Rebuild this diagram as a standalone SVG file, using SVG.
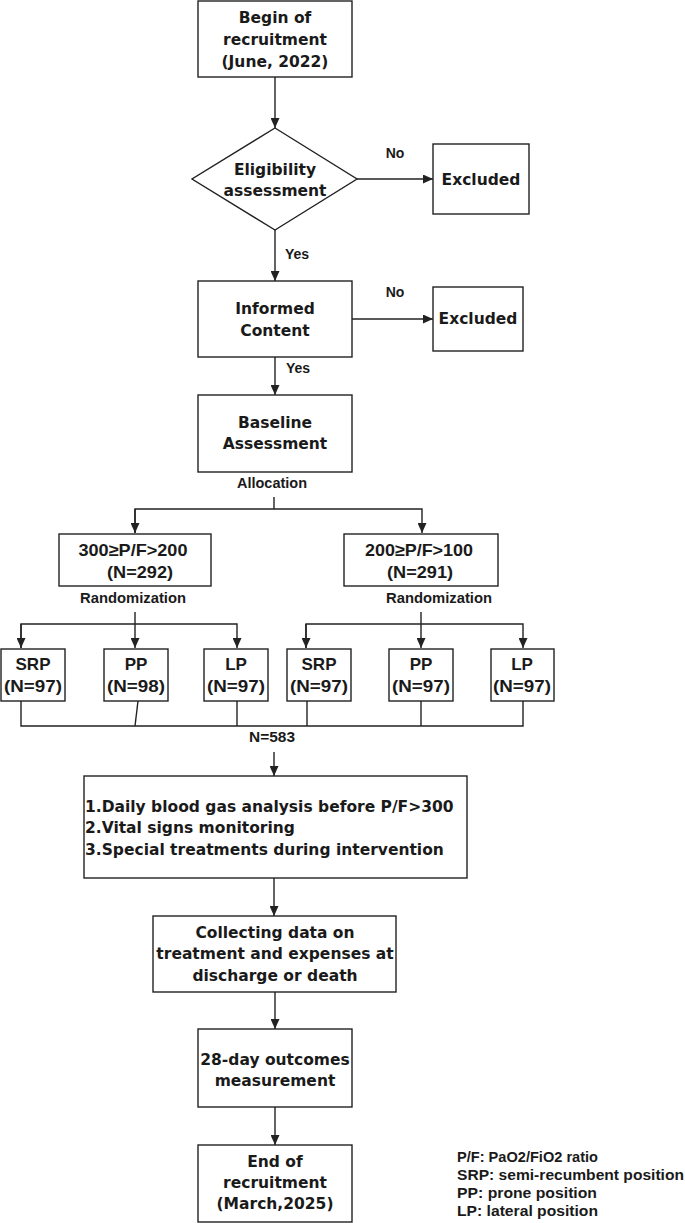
<svg xmlns="http://www.w3.org/2000/svg" width="685" height="1223" viewBox="0 0 685 1223">
<style>
.box{fill:#fff;stroke:#222;stroke-width:1.4}
.t{font-family:"DejaVu Sans",Verdana,sans-serif;font-weight:bold;font-size:15.5px;fill:#1a1a1a;text-anchor:middle}
.tl{font-family:"DejaVu Sans",Verdana,sans-serif;font-weight:bold;font-size:15.5px;fill:#1a1a1a}
.n{font-family:"Liberation Sans",Arial,sans-serif;font-weight:bold;font-size:17px;fill:#1a1a1a;text-anchor:middle}
.s{font-family:"Liberation Sans",Arial,sans-serif;font-weight:bold;font-size:14px;fill:#1a1a1a;text-anchor:middle}
.lg{font-family:"Liberation Sans",Arial,sans-serif;font-weight:bold;font-size:15px;fill:#1a1a1a}
.c{fill:none;stroke:#222;stroke-width:1.4}
</style>
<defs>
<marker id="ah" markerUnits="userSpaceOnUse" markerWidth="10" markerHeight="9" refX="10" refY="4.5" orient="auto">
<path d="M0,0 L10,4.5 L0,9 z" fill="#222"/>
</marker>
</defs>
<rect width="685" height="1223" fill="#fff"/>

<g id="connectors">
<line class="c" x1="275" y1="77" x2="275" y2="128" marker-end="url(#ah)"/>
<line class="c" x1="357" y1="179" x2="433" y2="179" marker-end="url(#ah)"/>
<line class="c" x1="275" y1="230" x2="275" y2="281" marker-end="url(#ah)"/>
<line class="c" x1="352" y1="319" x2="433" y2="319" marker-end="url(#ah)"/>
<line class="c" x1="275" y1="357" x2="275" y2="395" marker-end="url(#ah)"/>
<line class="c" x1="274" y1="497" x2="274" y2="509"/>
<polyline class="c" points="135,533 135,509 422,509 422,533" marker-start="url(#ah)" marker-end="url(#ah)" style="marker-start:none"/>
<line class="c" x1="135" y1="509" x2="135" y2="533" marker-end="url(#ah)"/>
<line class="c" x1="135" y1="612" x2="135" y2="648" marker-end="url(#ah)"/>
<polyline class="c" points="21,648 21,624 237,624 237,648" marker-end="url(#ah)"/>
<line class="c" x1="21" y1="624" x2="21" y2="648" marker-end="url(#ah)"/>
<line class="c" x1="421" y1="612" x2="421" y2="648" marker-end="url(#ah)"/>
<polyline class="c" points="306,648 306,624 523,624 523,648" marker-end="url(#ah)"/>
<line class="c" x1="306" y1="624" x2="306" y2="648" marker-end="url(#ah)"/>
<polyline class="c" points="21,701 21,726 523,726 523,701"/>
<line class="c" x1="138" y1="701" x2="135" y2="726"/>
<line class="c" x1="237" y1="701" x2="237" y2="726"/>
<line class="c" x1="307" y1="701" x2="307" y2="726"/>
<line class="c" x1="421" y1="701" x2="421" y2="726"/>
<line class="c" x1="274" y1="752" x2="274" y2="776" marker-end="url(#ah)"/>
<line class="c" x1="274" y1="878" x2="274" y2="916" marker-end="url(#ah)"/>
<line class="c" x1="275" y1="992" x2="275" y2="1029" marker-end="url(#ah)"/>
<line class="c" x1="275" y1="1107" x2="275" y2="1145" marker-end="url(#ah)"/>
<text class="s" x="395" y="158">No</text>
<text class="s" x="395" y="297">No</text>
<text class="s" x="297" y="259">Yes</text>
<text class="s" x="298" y="373">Yes</text>
<text class="s" x="272" y="488" textLength="70" lengthAdjust="spacingAndGlyphs">Allocation</text>
<text class="s" x="133" y="603" textLength="106" lengthAdjust="spacingAndGlyphs">Randomization</text>
<text class="s" x="439" y="603" textLength="106" lengthAdjust="spacingAndGlyphs">Randomization</text>
<text class="s" x="272" y="742" textLength="46" lengthAdjust="spacingAndGlyphs">N=583</text>
</g>

<g id="begin">
<rect class="box" x="198" y="1" width="154" height="76"/>
<text class="t" x="275" y="23">Begin of</text>
<text class="t" x="275" y="45">recruitment</text>
<text class="t" x="275" y="67">(June, 2022)</text>
</g>

<g id="eligibility">
<polygon class="box" points="275,128 357,179 275,230 192,179"/>
<text class="t" x="275" y="175">Eligibility</text>
<text class="t" x="275" y="196">assessment</text>
</g>

<g id="excluded1">
<rect class="box" x="433" y="144" width="96" height="70"/>
<text class="t" x="481" y="185">Excluded</text>
</g>

<g id="informed">
<rect class="box" x="198" y="281" width="154" height="76"/>
<text class="t" x="275" y="314">Informed</text>
<text class="t" x="275" y="336">Content</text>
</g>

<g id="excluded2">
<rect class="box" x="433" y="287" width="90" height="64"/>
<text class="t" x="478" y="324">Excluded</text>
</g>

<g id="baseline">
<rect class="box" x="198" y="395" width="154" height="77"/>
<text class="t" x="275" y="428">Baseline</text>
<text class="t" x="275" y="449">Assessment</text>
</g>

<g id="group1">
<rect class="box" x="59" y="534" width="152" height="52"/>
<text class="n" x="133" y="556" textLength="109" lengthAdjust="spacingAndGlyphs">300≥P/F&gt;200</text>
<text class="n" x="140" y="578" textLength="66" lengthAdjust="spacingAndGlyphs">(N=292)</text>
</g>

<g id="group2">
<rect class="box" x="344" y="534" width="154" height="52"/>
<text class="n" x="419" y="556" textLength="108" lengthAdjust="spacingAndGlyphs">200≥P/F&gt;100</text>
<text class="n" x="420" y="578" textLength="66" lengthAdjust="spacingAndGlyphs">(N=291)</text>
</g>

<g id="srp1">
<rect class="box" x="1" y="649" width="64" height="52"/>
<text class="n" x="33" y="670">SRP</text>
<text class="n" x="33" y="692" textLength="58" lengthAdjust="spacingAndGlyphs">(N=97)</text>
</g>
<g id="pp1">
<rect class="box" x="104" y="649" width="64" height="52"/>
<text class="n" x="136" y="670">PP</text>
<text class="n" x="136" y="692" textLength="58" lengthAdjust="spacingAndGlyphs">(N=98)</text>
</g>
<g id="lp1">
<rect class="box" x="204" y="649" width="64" height="52"/>
<text class="n" x="236" y="670">LP</text>
<text class="n" x="236" y="692" textLength="58" lengthAdjust="spacingAndGlyphs">(N=97)</text>
</g>
<g id="srp2">
<rect class="box" x="287" y="649" width="64" height="52"/>
<text class="n" x="319" y="670">SRP</text>
<text class="n" x="319" y="692" textLength="58" lengthAdjust="spacingAndGlyphs">(N=97)</text>
</g>
<g id="pp2">
<rect class="box" x="389" y="649" width="64" height="52"/>
<text class="n" x="421" y="670">PP</text>
<text class="n" x="421" y="692" textLength="58" lengthAdjust="spacingAndGlyphs">(N=97)</text>
</g>
<g id="lp2">
<rect class="box" x="491" y="649" width="63" height="52"/>
<text class="n" x="522" y="670">LP</text>
<text class="n" x="522" y="692" textLength="58" lengthAdjust="spacingAndGlyphs">(N=97)</text>
</g>

<g id="daily">
<rect class="box" x="84" y="776" width="383" height="102"/>
<text class="tl" x="85" y="812">1.Daily blood gas analysis before P/F&gt;300</text>
<text class="tl" x="85" y="833">2.Vital signs monitoring</text>
<text class="tl" x="85" y="855">3.Special treatments during intervention</text>
</g>

<g id="collecting">
<rect class="box" x="153" y="916" width="243" height="76"/>
<text class="t" x="275" y="938">Collecting data on</text>
<text class="t" x="275" y="959">treatment and expenses at</text>
<text class="t" x="275" y="981">discharge or death</text>
</g>

<g id="outcomes">
<rect class="box" x="198" y="1029" width="154" height="78"/>
<text class="t" x="275" y="1065">28-day outcomes</text>
<text class="t" x="275" y="1086">measurement</text>
</g>

<g id="end">
<rect class="box" x="198" y="1145" width="154" height="77"/>
<text class="t" x="275" y="1167">End of</text>
<text class="t" x="275" y="1188">recruitment</text>
<text class="t" x="275" y="1209">(March,2025)</text>
</g>

<g id="legend">
<text class="lg" x="457" y="1162" textLength="141" lengthAdjust="spacingAndGlyphs">P/F: PaO2/FiO2 ratio</text>
<text class="lg" x="457" y="1180" textLength="227" lengthAdjust="spacingAndGlyphs">SRP: semi-recumbent position</text>
<text class="lg" x="457" y="1198" textLength="140" lengthAdjust="spacingAndGlyphs">PP: prone position</text>
<text class="lg" x="457" y="1216" textLength="141" lengthAdjust="spacingAndGlyphs">LP: lateral position</text>
</g>
</svg>
